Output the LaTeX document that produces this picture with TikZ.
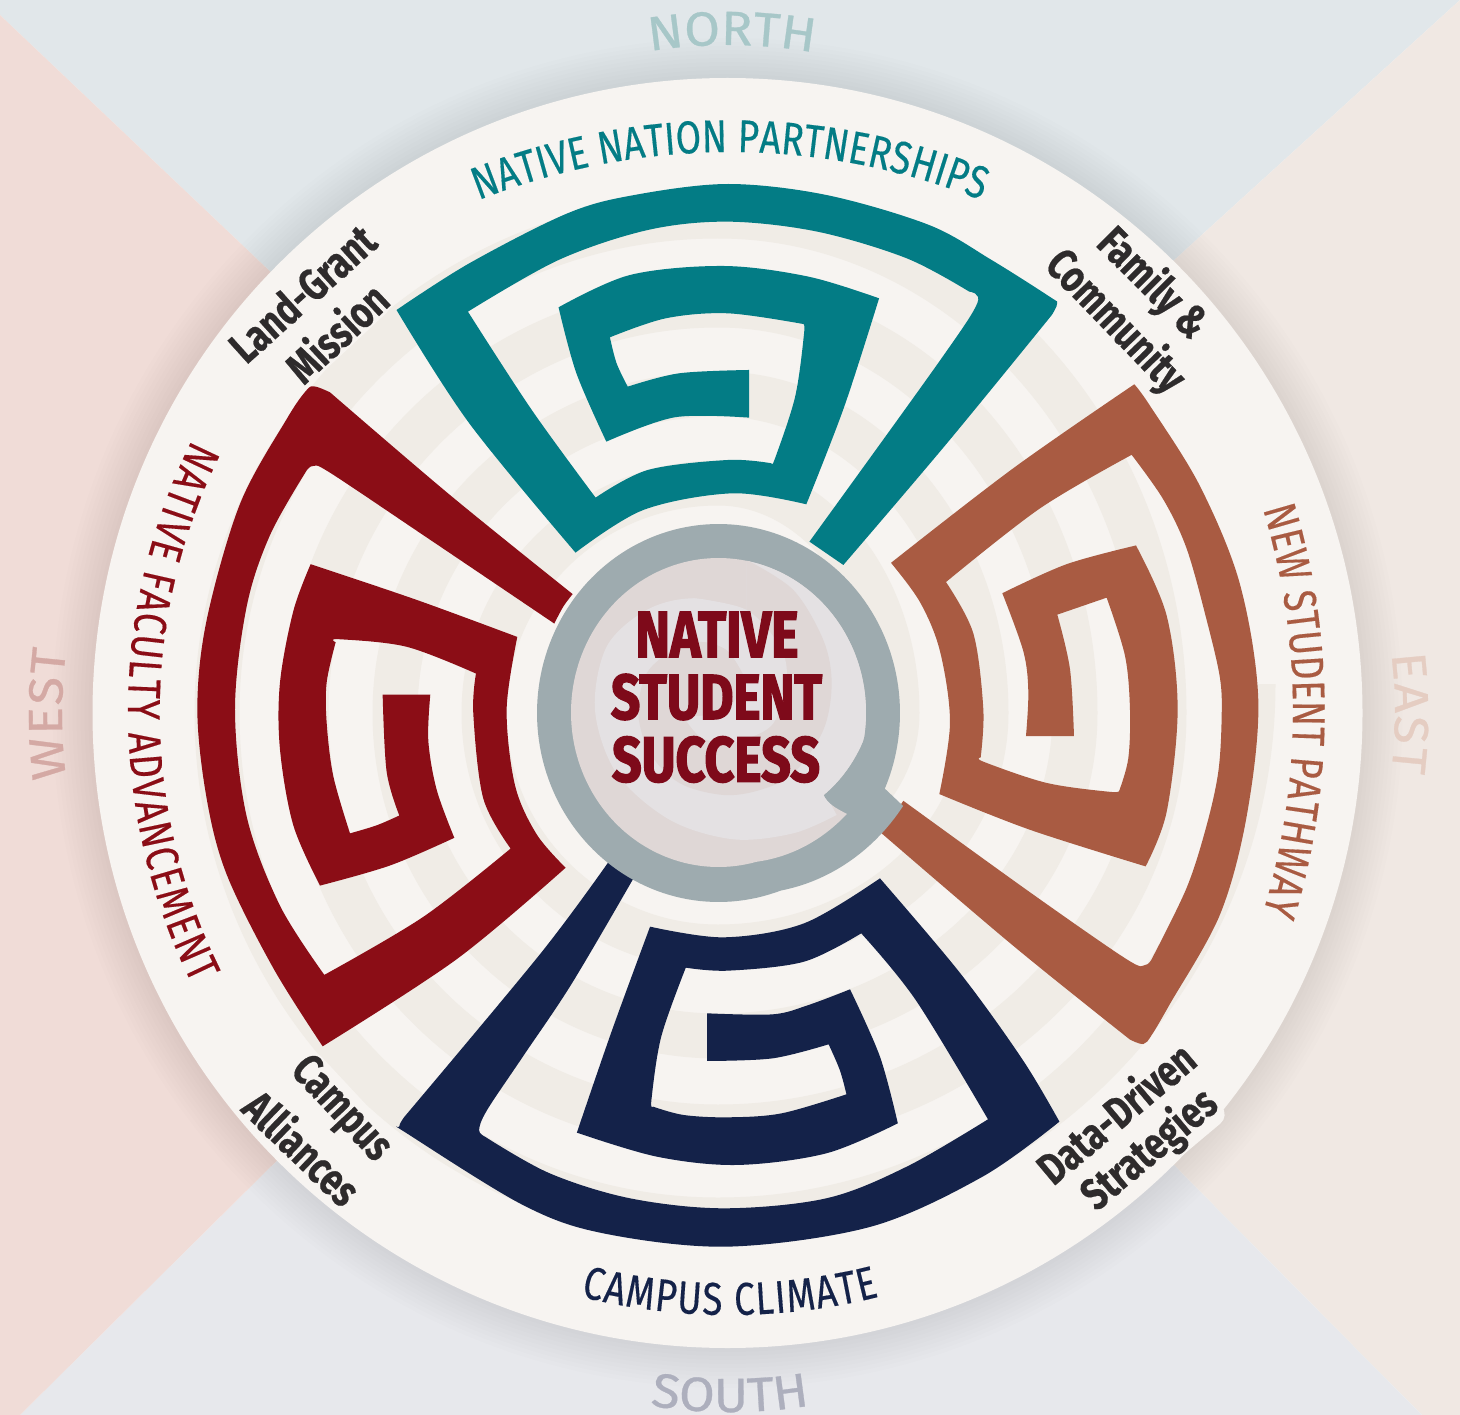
\documentclass[tikz,border=0pt]{standalone}
\usepackage{fontspec}
\usepackage{graphicx}
\usetikzlibrary{decorations.text}
\setmainfont{Fira Sans}
\newfontfamily\arcfont[FakeStretch=0.8,FakeBold=0.3]{Fira Sans}
\newfontfamily\dirfont[FakeStretch=1.08,FakeBold=0.6]{Fira Sans}
\newfontfamily\lblfont[FakeStretch=0.78,BoldFeatures={FakeBold=0.5}]{Fira Sans}
\newfontfamily\heavyfont[BoldFeatures={FakeBold=2.5}]{Fira Sans}
\definecolor{discc}{HTML}{F7F4F1}
\definecolor{bandc}{HTML}{F0ECE6}
\definecolor{tealc}{HTML}{037C85}
\definecolor{brownc}{HTML}{A95B42}
\definecolor{redc}{HTML}{8B0D16}
\definecolor{navyc}{HTML}{142249}
\definecolor{grayc}{HTML}{9EABAF}
\definecolor{pinkc}{HTML}{DFD7D6}
\definecolor{lightc}{HTML}{E4E1E3}
\definecolor{titlec}{HTML}{7E0A1A}
\definecolor{labelc}{HTML}{2E2B2C}
\definecolor{bgn}{HTML}{E1E7EA}
\definecolor{bge}{HTML}{F0E8E3}
\definecolor{bgs}{HTML}{E7E8EC}
\definecolor{bgw}{HTML}{F0DCD7}
\definecolor{northc}{HTML}{A7C7C8}
\definecolor{southc}{HTML}{ADAFBD}
\definecolor{westc}{HTML}{D4A9A4}
\definecolor{eastc}{HTML}{E5CDC2}
\tikzset{
  zoomteal/.style={shift={(380,170)},xscale=.4464,yscale=.3333},
  zoombrown/.style={shift={(880,370)},xscale=.3333,yscale=.4464},
  zoomred/.style={shift={(190,370)},xscale=.3333,yscale=.4464},
  zoomnavy/.style={shift={(380,860)},xscale=.4464,yscale=.3333},
  zoomcore/.style={shift={(560,550)},xscale=.3333,yscale=.3333},
  curve/.style={smooth,tension=.55},
  lbl/.style={font=\lblfont\bfseries\fontsize{44.5}{44.5}\selectfont,text=labelc,inner sep=0pt},
  halo/.style={font=\lblfont\bfseries\fontsize{44.5}{44.5}\selectfont,fill=discc,rounded corners=12pt,inner sep=2pt},
  ttl/.style={inner sep=0pt,text=titlec}
}
\newcommand{\arctext}[9]{\path[decorate,decoration={text along path,text align={fit to path},text={|#9\fontsize{#1}{#1}\selectfont\color{#2}|#3}}] plot[domain=#7:#8,samples=61,variable=\t] ({#4+#6*cos(\t)},{#5+#6*sin(\t)});}
\newcommand{\holepath}{plot[domain=37:-323,samples=180,variable=\t] ({718.5+147.5*cos(\t)*(1+.09*max(0,-285-\t)/38-.11*max(0,\t-10)/27)},{712.5+154.5*sin(\t)*(1+.09*max(0,-285-\t)/38-.11*max(0,\t-10)/27)}) .. controls (835,808) and (827,803) .. (823.5,795) -- cycle}
\begin{document}
\begin{tikzpicture}[x=1pt,y=-1pt]
\useasboundingbox (0,0) rectangle (1460,1415);
\clip (0,0) rectangle (1460,1415);
% quadrants
\fill[bgn] (0,0) -- (1460,0) -- (727,667) -- (727,705) -- (0,15) -- cycle;
\fill[bge] (1460,0) -- (1460,1415) -- (1422,1415) -- (727,715) -- (727,667) -- cycle;
\fill[bgs] (20,1415) -- (727,715) -- (1422,1415) -- cycle;
\fill[bgw] (0,15) -- (727,705) -- (727,715) -- (20,1415) -- (0,1415) -- cycle;
% soft shadow
\foreach \k in {1,...,10}{\fill[black,opacity=.007] (727.5,713) circle[radius=635+\k*4];}
% disc
\fill[discc] (727.5,713) circle[radius=635];
% spiral band
\draw[bandc,line width=45pt] (1253,684)
 .. controls (1253,979) and (1012,1220) .. (718,1220)
 .. controls (442,1220) and (217,992) .. (217,713)
 .. controls (217,440) and (442,216) .. (718,216)
 .. controls (963,216) and (1164,440) .. (1164,713)
 .. controls (1164,941) and (963,1127) .. (718,1127)
 .. controls (491,1127) and (306,941) .. (306,713)
 .. controls (306,489) and (491,305) .. (718,305)
 .. controls (914,305) and (1075,489) .. (1075,713)
 .. controls (1075,891) and (914,1036) .. (718,1036)
 .. controls (540,1036) and (395,891) .. (395,713)
 .. controls (395,538) and (540,394) .. (718,394)
 .. controls (865,394) and (986,538) .. (986,713)
 .. controls (986,842) and (865,947) .. (718,947)
 .. controls (589,947) and (484,842) .. (484,713)
 .. controls (484,586) and (589,483) .. (718,483)
 .. controls (816,483) and (897,586) .. (897,713)
 .. controls (897,793) and (816,859) .. (718,859);
% halos
\node[halo,rotate=42] (h1) at (302,293) {\phantom{Land-Grant}};
\node[halo,rotate=43] (h2) at (336,332) {\phantom{Mission}};
\node[halo,rotate=-45] (h3) at (1152,284) {\phantom{Family \&}};
\node[halo,rotate=-46] (h4) at (1115,322) {\phantom{Community}};
\node[halo,rotate=40] (h5) at (1115,1112) {\phantom{Data-Driven}};
\node[halo,rotate=40] (h6) at (1150,1150) {\phantom{Strategies}};
\node[halo,rotate=-47] (h7) at (340,1110) {\phantom{Campus}};
\node[halo,rotate=-44] (h8) at (303,1147) {\phantom{Alliances}};
% teal
\begin{scope}[zoomteal]
\fill[tealc,curve] plot coordinates {(37,420) (200,280) (420,130) (570,75) (780,42) (1000,75) (1230,165) (1370,270) (1500,380) (1517,400) (1505,435)}
 -- plot coordinates {(1505,435) (1270,820) (1038,1185)}
 -- (962,1115)
 -- plot coordinates {(962,1115) (1250,580) (1338,400) (1320,365)}
 -- plot coordinates {(1320,365) (1180,265) (980,185) (780,155) (600,180) (400,270) (197,425)}
 -- plot coordinates {(197,425) (340,720) (483,983)}
 -- plot coordinates {(483,983) (600,900) (780,870) (877,880)}
 -- plot coordinates {(877,880) (885,865) (930,680) (950,490) (948,462)}
 -- plot coordinates {(948,462) (780,430) (640,445) (515,502)}
 -- plot coordinates {(515,502) (530,580) (555,650)}
 -- plot coordinates {(555,650) (670,610) (827,600)}
 -- (827,743)
 -- plot coordinates {(827,743) (660,742) (507,815)}
 -- plot coordinates {(507,815) (440,610) (400,412)}
 -- plot coordinates {(400,412) (560,315) (770,288) (960,320) (1118,385)}
 -- plot coordinates {(1118,385) (1040,710) (955,1003)}
 -- plot coordinates {(955,1003) (790,970) (590,1020) (438,1148)}
 -- plot coordinates {(438,1148) (200,760) (37,420)} -- cycle;
\end{scope}
% brown
\begin{scope}[zoombrown]
\fill[brownc,curve] plot coordinates {(33,432) (400,220) (763,32)}
 -- plot coordinates {(763,32) (810,80) (960,260) (1080,480) (1135,740) (1100,1000) (1020,1220) (870,1420) (815,1490) (790,1510) (750,1500)}
 -- plot coordinates {(750,1500) (400,1290) (5,1038)}
 -- (70,965)
 -- plot coordinates {(70,965) (450,1170) (740,1320) (795,1333) (815,1320)}
 -- plot coordinates {(815,1320) (920,1160) (980,1020) (1015,900) (1025,780) (1020,690) (980,560) (920,400) (850,290) (755,190)}
 -- plot coordinates {(755,190) (480,310) (198,475)}
 -- plot coordinates {(198,475) (280,590) (310,760) (302,868)}
 -- plot coordinates {(302,868) (312,878) (500,925) (690,945) (718,942)}
 -- plot coordinates {(718,942) (745,870) (750,760) (735,640) (680,510)}
 -- (532,548)
 -- plot coordinates {(532,548) (570,670) (582,820)}
 -- (438,820)
 -- plot coordinates {(438,820) (445,720) (430,630) (367,500)}
 -- plot coordinates {(367,500) (560,435) (768,393)}
 -- plot coordinates {(768,393) (860,550) (893,760) (860,990) (797,1112)}
 -- plot coordinates {(797,1112) (450,1030) (178,950)}
 -- plot coordinates {(178,950) (210,790) (180,630) (120,520) (33,432)} -- cycle;
\end{scope}
% red
\begin{scope}[zoomred]
\fill[redc,curve] plot coordinates {(1148,502) (1120,530) (1093,568)}
 -- plot coordinates {(1093,568) (700,370) (420,230) (370,215) (350,225)}
 -- plot coordinates {(350,225) (240,370) (170,530) (135,760) (170,1000) (270,1200) (403,1355)}
 -- plot coordinates {(403,1355) (700,1225) (962,1072)}
 -- plot coordinates {(962,1072) (880,960) (850,770) (858,680)}
 -- plot coordinates {(858,680) (650,620) (445,603) (437,610)}
 -- plot coordinates {(437,610) (410,700) (410,790) (430,910) (480,1038)}
 -- plot coordinates {(480,1038) (560,1020) (628,998)}
 -- plot coordinates {(628,998) (590,900) (578,727)}
 -- (721,727)
 -- plot coordinates {(721,727) (715,830) (740,940) (793,1048)}
 -- plot coordinates {(793,1048) (600,1110) (390,1155)}
 -- plot coordinates {(390,1155) (310,1020) (270,850) (270,700) (310,540) (362,435)}
 -- plot coordinates {(362,435) (680,515) (982,598)}
 -- plot coordinates {(982,598) (950,760) (975,930) (1040,1040) (1127,1115)}
 -- plot coordinates {(1127,1115) (800,1320) (398,1515)}
 -- plot coordinates {(398,1515) (250,1340) (110,1130) (50,960) (22,760) (50,560) (150,300) (290,110) (350,45) (375,37) (420,50)}
 -- plot coordinates {(420,50) (780,280) (1148,502)} -- cycle;
\end{scope}
% navy
\begin{scope}[zoomnavy]
\fill[navyc,curve] (515,0) -- (570,50)
 -- plot coordinates {(570,50) (430,370) (320,590) (240,750) (222,810) (235,830)}
 -- plot coordinates {(235,830) (380,940) (560,1015) (770,1045) (1000,1015) (1180,920) (1362,778)}
 -- plot coordinates {(1362,778) (1200,420) (1078,220)}
 -- plot coordinates {(1078,220) (950,305) (780,332) (685,323)}
 -- plot coordinates {(685,323) (630,530) (608,720) (612,740)}
 -- plot coordinates {(612,740) (680,765) (780,772) (900,760) (1045,703)}
 -- plot coordinates {(1045,703) (1030,630) (1005,553)}
 -- plot coordinates {(1005,553) (880,595) (733,603)}
 -- (733,460)
 -- plot coordinates {(733,460) (880,463) (960,435) (1053,388)}
 -- plot coordinates {(1053,388) (1120,590) (1160,790)}
 -- plot coordinates {(1160,790) (1000,880) (800,915) (620,890) (441,818)}
 -- plot coordinates {(441,818) (520,510) (605,200)}
 -- plot coordinates {(605,200) (770,232) (950,190) (1120,55)}
 -- plot coordinates {(1120,55) (1300,340) (1440,600) (1522,785)}
 -- plot coordinates {(1522,785) (1350,950) (1100,1100) (780,1160) (500,1120) (320,1035) (60,820) (43,800) (55,770)}
 -- plot coordinates {(55,770) (360,280) (515,0)} -- cycle;
\end{scope}
% gray spiral: outer edge flares out towards its end
\fill[grayc] plot[domain=23.6:-334.2,samples=180,variable=\t] ({718.5+181.5*cos(\t)*(1+.13*max(0,-290-\t)/44.2)},{713+189*sin(\t)*(1+.13*max(0,-290-\t)/44.2)}) -- cycle;
% inner hole
\fill[pinkc] \holepath;
\begin{scope}
\clip \holepath;
\begin{scope}[zoomcore]
\fill[lightc,curve] (560,0) -- (1000,0) -- (1000,700) -- (795,730)
 -- (830,795)
 -- plot coordinates {(830,795) (700,850) (520,868) (330,810) (170,670) (105,480) (140,290) (260,180) (400,145) (560,180)} -- cycle;
\fill[pinkc,curve] plot coordinates {(560,30) (700,120) (790,270) (815,400) (790,540) (700,670) (600,720) (490,735) (360,700) (270,610) (235,490) (260,370) (340,300) (420,275) (500,300) (550,375)} -- (560,180) -- cycle;
\fill[lightc,curve] plot coordinates {(400,145) (560,180) (660,290) (680,390) (640,520) (550,570) (490,580) (420,560) (370,500)}
 -- plot coordinates {(370,500) (500,480) (550,375) (500,300) (420,275) (340,300)}
 -- (260,180) -- cycle;
\end{scope}
\end{scope}
% centre title
\node[ttl] (t1) at (717,634.5) {\resizebox{163pt}{45pt}{\heavyfont\bfseries NATIVE}};
\node[ttl] (t2) at (716.5,697) {\resizebox{211pt}{45pt}{\heavyfont\bfseries STUDENT}};
\node[ttl] (t3) at (716,759.5) {\resizebox{208pt}{45pt}{\heavyfont\bfseries SUCCESS}};
% labels
\node[lbl,rotate=42] (l1) at (302,293) {Land-Grant};
\node[lbl,rotate=43] (l2) at (336,332) {Mission};
\node[lbl,rotate=-45] (l3) at (1152,284) {Family \&};
\node[lbl,rotate=-46] (l4) at (1115,322) {Community};
\node[lbl,rotate=40] (l5) at (1115,1112) {Data-Driven};
\node[lbl,rotate=40] (l6) at (1150,1150) {Strategies};
\node[lbl,rotate=-47] (l7) at (340,1110) {Campus};
\node[lbl,rotate=-44] (l8) at (303,1147) {Alliances};
% curved captions
\arctext{46}{tealc}{NATIVE NATION PARTNERSHIPS}{730}{832}{680}{248.3}{291.7}{\arcfont}
\arctext{46}{brownc}{NEW STUDENT PATHWAY}{598}{711}{695}{-16.9}{16.9}{\arcfont}
\arctext{46}{redc}{NATIVE FACULTY ADVANCEMENT}{738}{712}{610}{206.5}{153.5}{\arcfont}
\arctext{46}{navyc}{CAMPUS CLIMATE}{730}{698}{617}{104}{76}{\arcfont}
\arctext{48}{northc}{NORTH}{728}{545}{500}{261}{279}{\dirfont}
\arctext{48}{southc}{SOUTH}{730}{912}{500}{99.2}{80.8}{\dirfont}
\arctext{48}{westc}{WEST}{562}{714}{500}{172.6}{187.4}{\dirfont}
\arctext{48}{eastc}{EAST}{895}{713}{500}{-6.8}{6.8}{\dirfont}
\end{tikzpicture}
\end{document}
